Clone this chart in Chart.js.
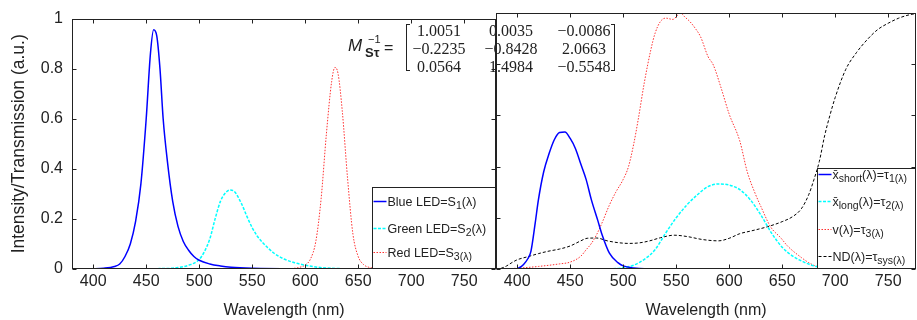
<!DOCTYPE html>
<html>
<head>
<meta charset="utf-8">
<script src="https://cdn.jsdelivr.net/npm/chart.js@4/dist/chart.umd.min.js"></script>
<style>
  body { margin: 0; background: #fff; }
  #wrap { position: relative; width: 917px; height: 320px; overflow: hidden; }
  canvas { position: absolute; top: 0; }
  #chartLeds { left: 0; }
  #chartFilters { left: 494px; }
  .t { position: absolute; color: #222; white-space: nowrap; line-height: 1; }
  .num { font: 16px "Liberation Serif", "Times New Roman", serif; width: 70px; text-align: center; }
  .br { position: absolute; border: 1px solid #222; width: 3px; height: 45px; top: 24px; }
</style>
</head>
<body>
<div id="wrap">
  <canvas id="chartLeds" width="498" height="320"></canvas>
  <canvas id="chartFilters" width="423" height="320"></canvas>
  <div id="matrix"></div>
</div>
<script>
// tick labels
const xTicks = [400, 450, 500, 550, 600, 650, 700, 750];
const yTicks = [0, 0.2, 0.4, 0.6, 0.8, 1];

// left panel: LED spectra
const blueLedNm  = [380, 400, 410, 420, 425, 430, 435, 440, 445, 450, 454, 457, 460, 463, 466, 470, 475, 480, 485, 490, 495, 500, 510, 520, 530, 550, 600, 780];
const blueLedVal = [0, 0.001, 0.003, 0.01, 0.02, 0.05, 0.1, 0.19, 0.34, 0.6, 0.86, 0.955, 0.93, 0.8, 0.6, 0.43, 0.27, 0.17, 0.11, 0.075, 0.05, 0.035, 0.02, 0.012, 0.007, 0.003, 0.001, 0];

const greenLedNm  = [380, 470, 480, 490, 500, 505, 510, 515, 520, 525, 529, 533, 540, 545, 550, 555, 560, 570, 580, 590, 600, 610, 620, 640, 780];
const greenLedVal = [0, 0.002, 0.006, 0.015, 0.038, 0.07, 0.12, 0.2, 0.27, 0.305, 0.315, 0.31, 0.26, 0.21, 0.165, 0.13, 0.105, 0.065, 0.04, 0.025, 0.015, 0.008, 0.004, 0.001, 0];

const redLedNm  = [380, 580, 590, 595, 600, 605, 610, 615, 620, 625, 628, 631, 635, 640, 645, 650, 655, 660, 670, 680, 780];
const redLedVal = [0, 0.001, 0.003, 0.007, 0.016, 0.04, 0.11, 0.28, 0.54, 0.75, 0.805, 0.78, 0.63, 0.36, 0.14, 0.05, 0.018, 0.007, 0.002, 0, 0];

// right panel: filter / sensitivity curves
const xShortNm  = [380, 398, 402, 406, 410, 413, 417, 420, 425, 430, 435, 440, 445, 450, 455, 460, 465, 470, 476, 480, 487, 495, 500, 510, 520, 780];
const xShortVal = [0, 0, 0.005, 0.018, 0.04, 0.07, 0.18, 0.27, 0.38, 0.45, 0.505, 0.533, 0.535, 0.51, 0.47, 0.41, 0.35, 0.27, 0.19, 0.135, 0.062, 0.025, 0.012, 0.004, 0.001, 0];

const xLongNm  = [380, 490, 500, 510, 520, 530, 540, 550, 560, 570, 580, 590, 600, 610, 620, 630, 640, 650, 660, 670, 680, 690, 700, 780];
const xLongVal = [0, 0.001, 0.005, 0.015, 0.038, 0.075, 0.14, 0.2, 0.25, 0.29, 0.322, 0.332, 0.328, 0.31, 0.27, 0.21, 0.14, 0.085, 0.05, 0.028, 0.012, 0.004, 0.001, 0];

const vLambdaNm  = [380, 400, 420, 440, 450, 460, 465, 470, 475, 480, 487, 493, 500, 505, 510, 514, 520, 526, 530, 535, 540, 547, 551, 554, 558, 563, 568, 573, 580, 585, 592, 600, 610, 617, 624, 630, 639, 649, 655, 668, 675, 683, 690, 700, 780];
const vLambdaVal = [0, 0.003, 0.01, 0.02, 0.027, 0.05, 0.075, 0.1, 0.135, 0.18, 0.25, 0.3, 0.35, 0.4, 0.49, 0.58, 0.73, 0.855, 0.92, 0.966, 0.98, 0.975, 0.99, 1.0, 0.985, 0.966, 0.94, 0.907, 0.83, 0.797, 0.712, 0.605, 0.5, 0.38, 0.3, 0.243, 0.165, 0.12, 0.09, 0.045, 0.025, 0.009, 0.003, 0, 0];

const ndNm  = [380, 385, 390, 395, 400, 410, 420, 430, 440, 450, 460, 466, 475, 485, 495, 505, 515, 525, 535, 548, 560, 575, 590, 600, 610, 620, 636, 650, 660, 668, 675, 680, 685, 690, 695, 700, 710, 720, 730, 740, 750, 760, 770, 780];
const ndVal = [0, 0.003, 0.012, 0.025, 0.036, 0.048, 0.06, 0.07, 0.078, 0.09, 0.11, 0.12, 0.121, 0.11, 0.103, 0.1, 0.102, 0.11, 0.122, 0.132, 0.127, 0.115, 0.11, 0.12, 0.138, 0.148, 0.165, 0.185, 0.205, 0.235, 0.29, 0.35, 0.42, 0.52, 0.6, 0.67, 0.78, 0.845, 0.895, 0.935, 0.96, 0.98, 0.993, 1.0];

const matrixRows = [
  ['1.0051', '0.0035', '\u22120.0086'],
  ['\u22120.2235', '\u22120.8428', '2.0663'],
  ['0.0564', '1.4984', '\u22120.5548']
];

const FONT = '"Liberation Sans", Arial, Helvetica, sans-serif';
const INK = '#222';

function series(nm, val, color, width, dash) {
  return {
    data: nm.map((x, i) => ({ x: x, y: val[i] })),
    borderColor: color,
    borderWidth: width,
    borderDash: dash,
    pointRadius: 0,
    fill: false,
    cubicInterpolationMode: 'monotone'
  };
}

// axes box with inward ticks on all four sides
const frame = {
  id: 'frame',
  afterDatasetsDraw(chart) {
    const { ctx, chartArea: a, scales } = chart;
    const l = Math.round(a.left) + 0.5, r = Math.round(a.right) - 0.5;
    const t = Math.round(a.top) + 0.5, b = Math.round(a.bottom) - 0.5;
    ctx.save();
    ctx.strokeStyle = INK;
    ctx.lineWidth = 1;
    ctx.setLineDash([]);
    ctx.strokeRect(l, t, r - l, b - t);
    ctx.beginPath();
    xTicks.forEach(v => {
      const px = Math.round(scales.x.getPixelForValue(v)) + 0.5;
      if (px < l || px > r) return;
      ctx.moveTo(px, t); ctx.lineTo(px, t + 4);
      ctx.moveTo(px, b); ctx.lineTo(px, b - 4);
    });
    yTicks.forEach(v => {
      const py = Math.round(scales.y.getPixelForValue(v)) + 0.5;
      ctx.moveTo(l, py); ctx.lineTo(l + 4, py);
      ctx.moveTo(r, py); ctx.lineTo(r - 4, py);
    });
    ctx.stroke();
    ctx.restore();
  }
};

// legend box with subscripts, anchored to the lower right corner
const boxLegend = {
  id: 'boxLegend',
  afterDatasetsDraw(chart, args, opts) {
    const { ctx, chartArea: a } = chart;
    const x0 = Math.round(a.right - opts.w) + 0.5;
    const y0 = Math.round(a.bottom - opts.h) + 0.5;
    ctx.save();
    ctx.fillStyle = '#fff';
    ctx.fillRect(x0, y0, a.right - x0, a.bottom - y0);
    ctx.strokeStyle = INK;
    ctx.lineWidth = 1;
    ctx.strokeRect(x0, y0, Math.round(a.right) - 0.5 - x0, Math.round(a.bottom) - 0.5 - y0);
    opts.rows.forEach(row => {
      const ds = chart.data.datasets[row.ds];
      const y = y0 + row.dy;
      ctx.strokeStyle = ds.borderColor;
      ctx.lineWidth = ds.borderWidth;
      ctx.setLineDash(ds.borderDash || []);
      ctx.beginPath();
      ctx.moveTo(x0 + 1, y);
      ctx.lineTo(x0 + 14, y);
      ctx.stroke();
      ctx.setLineDash([]);
      ctx.fillStyle = INK;
      ctx.textBaseline = 'middle';
      let x = x0 + 15;
      row.parts.forEach(([txt, sub]) => {
        ctx.font = (sub ? '10.5px ' : '12.5px ') + FONT;
        ctx.fillText(txt, x, sub ? y + 5 : y + 1);
        x += ctx.measureText(txt).width;
      });
    });
    ctx.restore();
  }
};

function makeChart(id, datasets, opts) {
  return new Chart(document.getElementById(id), {
    type: 'line',
    data: { datasets: datasets },
    options: {
      responsive: false,
      animation: false,
      devicePixelRatio: 1,
      layout: { padding: opts.padding },
      scales: {
        x: {
          type: 'linear',
          min: 380,
          max: opts.xMax,
          afterBuildTicks: s => { s.ticks = xTicks.map(v => ({ value: v })); },
          afterFit: s => { s.height = 51; },
          grid: { display: false, drawTicks: false },
          border: { display: false },
          ticks: { font: { family: FONT, size: 16 }, color: INK, padding: 3, maxRotation: 0 },
          title: { display: true, text: 'Wavelength (nm)', font: { family: FONT, size: 16 }, color: INK, padding: { top: 8, bottom: 0 } }
        },
        y: {
          display: opts.yWidth > 0,
          min: 0,
          max: 1,
          afterBuildTicks: s => { s.ticks = yTicks.map(v => ({ value: v })); },
          afterFit: s => { s.width = opts.yWidth; },
          grid: { display: false, drawTicks: false },
          border: { display: false },
          ticks: { font: { family: FONT, size: 16 }, color: INK, padding: 9, callback: v => String(Math.round(v * 10) / 10) },
          title: { display: true, text: 'Intensity/Transmission (a.u.)', font: { family: FONT, size: 17.5 }, color: INK, padding: { top: 9, bottom: 0 } }
        }
      },
      plugins: {
        legend: { display: false },
        tooltip: { enabled: false },
        boxLegend: opts.legend
      }
    },
    plugins: [frame, boxLegend]
  });
}

makeChart('chartLeds', [
  series(blueLedNm, blueLedVal, '#0000ff', 1.5, []),
  series(greenLedNm, greenLedVal, '#00ffff', 1.5, [3, 1.5]),
  series(redLedNm, redLedVal, '#ff3030', 1, [1.5, 1.5])
], {
  padding: { top: 13, right: 2, left: 0, bottom: 0 },
  xMax: 780,
  yWidth: 72,
  legend: {
    w: 124, h: 82,
    rows: [
      { ds: 0, dy: 14, parts: [['Blue LED=S', false], ['1', true], ['(\u03bb)', false]] },
      { ds: 1, dy: 41, parts: [['Green LED=S', false], ['2', true], ['(\u03bb)', false]] },
      { ds: 2, dy: 65, parts: [['Red LED=S', false], ['3(\u03bb)', true]] }
    ]
  }
});

makeChart('chartFilters', [
  series(xShortNm, xShortVal, '#0000ff', 1.5, []),
  series(xLongNm, xLongVal, '#00ffff', 1.5, [3, 1.5]),
  series(vLambdaNm, vLambdaVal, '#ff3030', 1, [1.5, 1.5]),
  series(ndNm, ndVal, '#000000', 1, [3, 2])
], {
  padding: { top: 13, right: 1, left: 2, bottom: 0 },
  xMax: 380 + 420 / 1.06,
  yWidth: 0,
  legend: {
    w: 99, h: 101,
    rows: [
      { ds: 0, dy: 6, parts: [['x\u0304', false], ['short', true], ['(\u03bb)=\u03c4', false], ['1(\u03bb)', true]] },
      { ds: 1, dy: 33, parts: [['x\u0304', false], ['long', true], ['(\u03bb)=\u03c4', false], ['2(\u03bb)', true]] },
      { ds: 2, dy: 61, parts: [['v(\u03bb)=\u03c4', false], ['3(\u03bb)', true]] },
      { ds: 3, dy: 88, parts: [['ND(\u03bb)=\u03c4', false], ['sys(\u03bb)', true]] }
    ]
  }
});

// matrix annotation
const mat = document.getElementById('matrix');
function addText(html, css) {
  const el = document.createElement('div');
  el.className = 't';
  el.innerHTML = html;
  el.style.cssText += css;
  mat.appendChild(el);
  return el;
}
addText('M', 'left:348px;top:36px;font:italic 17px ' + FONT + ';');
addText('S\u03c4', 'left:365px;top:45px;font:bold 13px ' + FONT + ';');
addText('\u22121', 'left:368px;top:33px;font:11px ' + FONT + ';');
addText('=', 'left:384px;top:39px;font:16px ' + FONT + ';');
const colX = [439, 511, 584];
const rowY = [30, 48, 66];
matrixRows.forEach((row, r) => {
  row.forEach((txt, c) => {
    const el = addText(txt, 'left:' + (colX[c] - 35) + 'px;top:' + (rowY[r] - 8) + 'px;');
    el.classList.add('num');
  });
});
const lb = document.createElement('div');
lb.className = 'br';
lb.style.cssText = 'left:406px;border-right:none;';
mat.appendChild(lb);
const rb = document.createElement('div');
rb.className = 'br';
rb.style.cssText = 'left:611px;border-left:none;';
mat.appendChild(rb);
</script>
</body>
</html>
